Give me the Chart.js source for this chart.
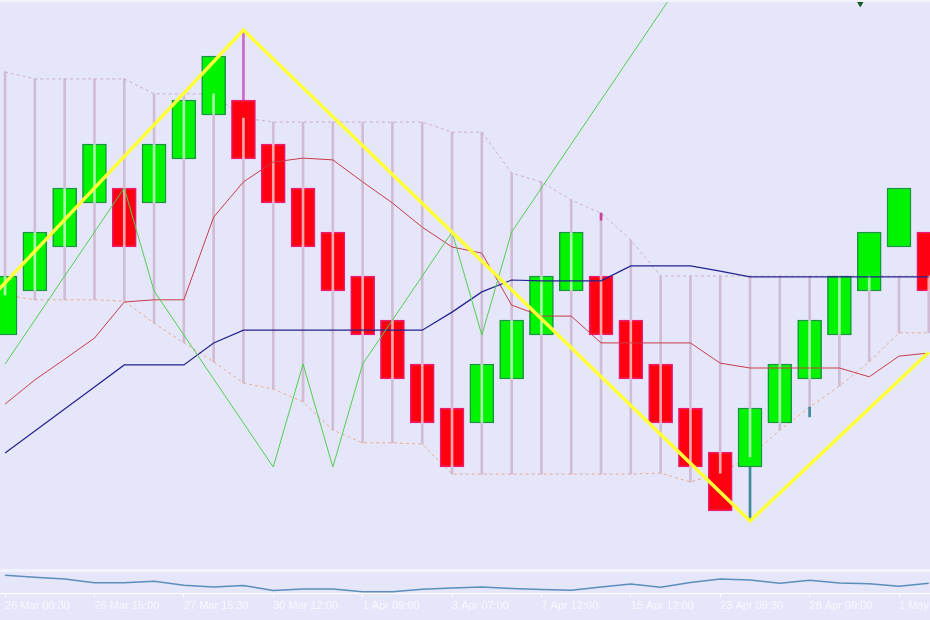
<!DOCTYPE html>
<html>
<head>
<meta charset="utf-8">
<script src="https://cdn.jsdelivr.net/npm/chart.js@4.4.1/dist/chart.umd.min.js"></script>
<style>
  html, body { margin: 0; padding: 0; background: #E6E6FA; overflow: hidden; }
  #wrap { width: 930px; height: 620px; background: #E6E6FA; }
  #topline { height: 2px; background: #F3F3FC; }
  #sep { height: 3px; background: #F3F3FC; }
  canvas { display: block; }
</style>
</head>
<body>
<div id="wrap">
  <div id="topline"></div>
  <canvas id="main" width="930" height="567"></canvas>
  <div id="sep"></div>
  <canvas id="osc" width="930" height="48"></canvas>
</div>
<script>
// renko bricks (open / close)
var brickOpen = [1.08400, 1.08500, 1.08600, 1.08700, 1.08734, 1.08700, 1.08800, 1.08900,
                 1.08934, 1.08834, 1.08734, 1.08634, 1.08534, 1.08434, 1.08334, 1.08234,
                 1.08200, 1.08300, 1.08400, 1.08500, 1.08534, 1.08434, 1.08334, 1.08234,
                 1.08134, 1.08100, 1.08200, 1.08300, 1.08400, 1.08500, 1.08600, 1.08634];
var brickClose = [1.08534, 1.08634, 1.08734, 1.08834, 1.08600, 1.08834, 1.08934, 1.09034,
                  1.08800, 1.08700, 1.08600, 1.08500, 1.08400, 1.08300, 1.08200, 1.08100,
                  1.08334, 1.08434, 1.08534, 1.08634, 1.08400, 1.08300, 1.08200, 1.08100,
                  1.08000, 1.08234, 1.08334, 1.08434, 1.08534, 1.08634, 1.08734, 1.08500];

// ichimoku
var tenkan = [1.08243, 1.08298, 1.08345, 1.08393, 1.08475, 1.08480, 1.08480, 1.08668,
              1.08748, 1.08793, 1.08802, 1.08798, 1.08748, 1.08700, 1.08645, 1.08600,
              1.08586, 1.08468, 1.08443, 1.08443, 1.08382, 1.08382, 1.08382, 1.08382,
              1.08336, 1.08325, 1.08325, 1.08325, 1.08325, 1.08305, 1.08352, 1.08359];
var kijun = [1.08132, 1.08182, 1.08232, 1.08282, 1.08332, 1.08332, 1.08332, 1.08382,
             1.08411, 1.08411, 1.08411, 1.08411, 1.08411, 1.08411, 1.08411, 1.08452,
             1.08498, 1.08525, 1.08523, 1.08523, 1.08523, 1.08557, 1.08557, 1.08557,
             1.08545, 1.08532, 1.08532, 1.08532, 1.08532, 1.08532, 1.08532, 1.08532];
var spanA = [1.08491, 1.08480, 1.08480, 1.08480, 1.08477, 1.08427, 1.08382, 1.08339,
             1.08291, 1.08277, 1.08248, 1.08184, 1.08155, 1.08155, 1.08152, 1.08084,
             1.08084, 1.08084, 1.08084, 1.08084, 1.08084, 1.08084, 1.08086, 1.08066,
             1.08086, 1.08123, 1.08184, 1.08236, 1.08284, 1.08339, 1.08405, 1.08405];
var spanB = [1.08998, 1.08982, 1.08982, 1.08982, 1.08982, 1.08948, 1.08948, 1.08948,
             1.08893, 1.08884, 1.08884, 1.08884, 1.08884, 1.08884, 1.08884, 1.08861,
             1.08861, 1.08768, 1.08748, 1.08707, 1.08677, 1.08616, 1.08534, 1.08534,
             1.08534, 1.08534, 1.08534, 1.08534, 1.08534, 1.08534, 1.08534, 1.08534];
var chikou = [1.08334, 1.08434, 1.08534, 1.08634, 1.08734, 1.08500, 1.08400, 1.08300,
              1.08200, 1.08100, 1.08334, 1.08100, 1.08334, 1.08434, 1.08534, 1.08634,
              1.08400, 1.08634, 1.08734, 1.08834, 1.08934, 1.09034, 1.09134, 1.09234];

// wicks
var wickIdx = [8, 20, 25, 27];
var wickLow = [1.08934, 1.08661, 1.07977, 1.08214];
var wickHigh = [1.09093, 1.08677, 1.08100, 1.08236];
var wickColors = ['#CC66CC', '#C8409C', '#3E8A9A', '#3E8A9A'];

// zigzag
var zzIdx = [-2, 8, 25, 31];
var zzPrice = [1.08375, 1.09093, 1.07977, 1.08361];

// arrow at top
var markIdx = [28.7];
var markPrice = [1.09160];

// lower window
var oscValues = [17.7, 15.7, 14.0, 10.3, 10.3, 11.7, 7.7, 6.0, 7.5, 2.5, 4.0, 4.0, 1.3, 1.3, 3.8, 5.0,
                 6.0, 4.5, 3.5, 2.7, 6.0, 9.0, 5.7, 10.5, 14.0, 13.0, 9.8, 12.8, 10.0, 9.2, 6.7, 9.7];

var tickIdx = [0, 3, 6, 9, 12, 15, 18, 21, 24, 27, 30];
var xLabels = ['26 Mar 00:30', '26 Mar 15:00', '27 Mar 15:30', '30 Mar 12:00', '1 Apr 09:00',
               '3 Apr 07:00', '7 Apr 12:00', '15 Apr 12:00', '23 Apr 09:30', '28 Apr 09:00', '1 May 09:00'];

var xMin = -0.17, xMax = 31.04;

function pts(arr) {
    return arr.map(function (v, i) { return {x: i, y: v}; });
}

var idx = brickOpen.map(function (v, i) { return i; });
var up = brickOpen.map(function (o, i) { return brickClose[i] > o; });

// cloud histogram, and the pale part of it that shows over the bricks
var cloudData = idx.map(function (i) { return {x: i, y: [spanA[i], spanB[i]]}; });
var paleData = [];
idx.forEach(function (i) {
    var lo = Math.max(Math.min(brickOpen[i], brickClose[i]), spanA[i]);
    var hi = Math.min(Math.max(brickOpen[i], brickClose[i]), spanB[i]);
    if (hi > lo) paleData.push({x: i, y: [lo, hi]});
});

var mainChart = new Chart(document.getElementById('main'), {
    type: 'bar',
    data: {
        datasets: [
            {
                data: cloudData, backgroundColor: 'rgb(208,188,212)',
                barThickness: 2, grouped: false, order: 10
            },
            {
                type: 'line', data: pts(spanB), borderColor: 'rgb(206,172,194)', borderWidth: 1,
                borderDash: [3, 3], pointRadius: 0, order: 9
            },
            {
                type: 'line', data: pts(spanA), borderColor: 'rgb(236,170,140)', borderWidth: 1,
                borderDash: [3, 3], pointRadius: 0, order: 8
            },
            {
                data: wickIdx.map(function (w, k) { return {x: w, y: [wickLow[k], wickHigh[k]]}; }),
                backgroundColor: wickColors, barThickness: 2, grouped: false, order: 7
            },
            {
                data: idx.map(function (i) { return {x: i, y: [brickOpen[i], brickClose[i]]}; }),
                backgroundColor: up.map(function (u) { return u ? '#00F400' : '#FF0010'; }),
                borderColor: up.map(function (u) { return u ? '#17963E' : '#E81A72'; }),
                borderWidth: 1.5, borderSkipped: false, barThickness: 24, grouped: false, order: 6
            },
            {
                data: paleData, backgroundColor: 'rgba(255,255,255,0.65)',
                barThickness: 2, grouped: false, order: 5
            },
            {
                type: 'line', data: pts(tenkan), borderColor: '#C83C46', borderWidth: 1,
                pointRadius: 0, order: 4
            },
            {
                type: 'line', data: pts(kijun), borderColor: '#222290', borderWidth: 1.2,
                pointRadius: 0, order: 3
            },
            {
                type: 'line', data: pts(chikou), borderColor: 'rgb(80,205,80)', borderWidth: 1,
                pointRadius: 0, order: 2
            },
            {
                type: 'line',
                data: zzIdx.map(function (z, k) { return {x: z, y: zzPrice[k]}; }),
                borderColor: '#FFFF3A', borderWidth: 3.5, pointRadius: 0, order: 1
            },
            {
                type: 'line', showLine: false,
                data: markIdx.map(function (m, k) { return {x: m, y: markPrice[k]}; }),
                pointStyle: 'triangle', rotation: 180, pointRadius: 6,
                backgroundColor: '#0C5A20', borderColor: '#0C5A20', order: 0
            }
        ]
    },
    options: {
        responsive: false,
        animation: false,
        events: [],
        layout: {padding: 0, autoPadding: false},
        plugins: {legend: {display: false}, tooltip: {enabled: false}},
        scales: {
            x: {type: 'linear', min: xMin, max: xMax, offset: false, display: false},
            y: {min: 1.078682, max: 1.091568, display: false}
        }
    }
});

var oscChart = new Chart(document.getElementById('osc'), {
    type: 'line',
    data: {
        datasets: [{
            data: pts(oscValues), borderColor: 'rgb(90,142,188)', borderWidth: 1.5, pointRadius: 0
        }]
    },
    options: {
        responsive: false,
        animation: false,
        events: [],
        layout: {padding: 0, autoPadding: false},
        plugins: {legend: {display: false}, tooltip: {enabled: false}},
        scales: {
            x: {
                type: 'linear', min: xMin, max: xMax, offset: false,
                afterBuildTicks: function (s) {
                    s.ticks = tickIdx.map(function (v) { return {value: v}; });
                },
                afterFit: function (s) {
                    s.paddingLeft = 0;
                    s.paddingRight = 0;
                    s.height = 27;
                },
                ticks: {
                    callback: function (v) { return xLabels[tickIdx.indexOf(v)]; },
                    align: 'start', maxRotation: 0, autoSkip: false, padding: 2,
                    color: '#F8F8FF', font: {family: 'Liberation Sans', size: 11}
                },
                grid: {drawOnChartArea: false, color: '#FFFFFF', tickLength: 4},
                border: {color: '#FFFFFF', width: 1}
            },
            y: {min: 0, max: 21, display: false}
        }
    }
});
</script>
</body>
</html>
